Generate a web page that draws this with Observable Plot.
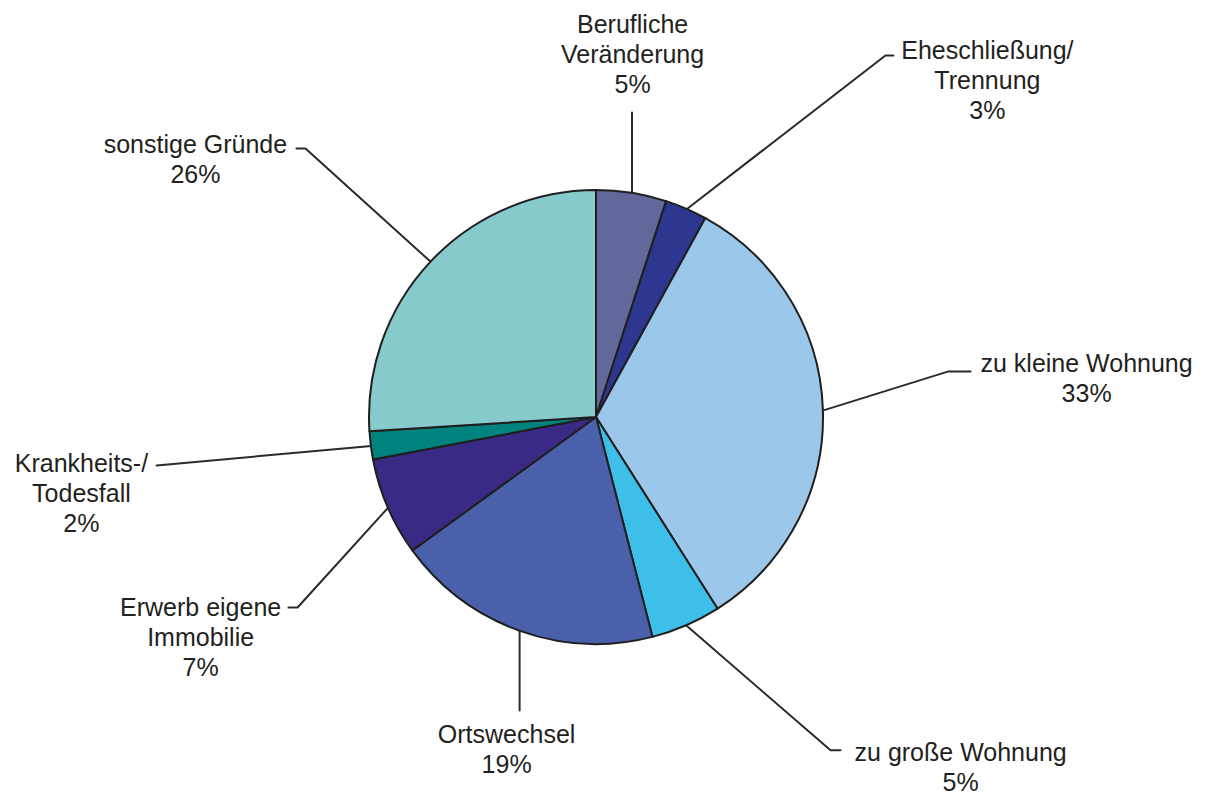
<!DOCTYPE html>
<html lang="de">
<head>
<meta charset="utf-8">
<title>Umzugsgründe</title>
<script src="https://cdn.jsdelivr.net/npm/d3@7"></script>
<script src="https://cdn.jsdelivr.net/npm/@observablehq/plot@0.6"></script>
<style>
  html, body { margin: 0; padding: 0; background: #fff; }
  #chart svg { display: block; }
</style>
</head>
<body>
<div id="chart"></div>
<script>
// Reasons for moving, share of all moves in percent (clockwise from 12 o'clock)
const categories = [
  "Berufliche Veränderung",
  "Eheschließung/Trennung",
  "zu kleine Wohnung",
  "zu große Wohnung",
  "Ortswechsel",
  "Erwerb eigene Immobilie",
  "Krankheits-/Todesfall",
  "sonstige Gründe"
];
const labelNames = [
  "Berufliche\nVeränderung",
  "Eheschließung/\nTrennung",
  "zu kleine Wohnung",
  "zu große Wohnung",
  "Ortswechsel",
  "Erwerb eigene\nImmobilie",
  "Krankheits-/\nTodesfall",
  "sonstige Gründe"
];
const shares = [5, 3, 33, 5, 19, 7, 2, 26];
const sliceColors = ["#62689a", "#2e3790", "#9bc7eb", "#3ebfe9", "#4b60aa", "#3b2a85", "#00827f", "#87cacc"];

// Layout, in units of the pie radius (origin at the pie centre, y pointing up)
const pieCenter = [596, 417];   // pixel position of the centre in the SVG
const pieRadius = 227;          // pixels
const width = 1208, height = 800;
const labelAt = [
  [0.159, 1.604], [1.722, 1.489], [2.159, 0.176], [1.604, -1.537],
  [-0.396, -1.458], [-1.744, -0.965], [-2.269, -0.330], [-1.767, 1.141]
];
// leader line vertices after the point on the rim (null x = straight up/down from the rim)
const leaderVia = [
  [[null, 1.344]],
  [[1.273, 1.595], [1.308, 1.595]],
  [[1.551, 0.203], [1.648, 0.203]],
  [[1.031, -1.466], [1.075, -1.466]],
  [[null, -1.291]],
  [[-1.317, -0.837], [-1.357, -0.837]],
  [[-1.938, -0.211]],
  [[-1.282, 1.185], [-1.322, 1.185]]
];

const rows = categories.map((category, i) => ({
  category,
  share: shares[i],
  text: `${labelNames[i]}\n${shares[i]}%`,
  lx: labelAt[i][0],
  ly: labelAt[i][1]
}));

const arcs = d3.pie().sort(null).value(d => d.share)(rows);

const leaders = arcs.flatMap((a, i) => {
  const mid = (a.startAngle + a.endAngle) / 2;
  const rim = [Math.sin(mid), Math.cos(mid)];
  const pts = [rim, ...leaderVia[i].map(([u, v]) => [u ?? rim[0], v])];
  return pts.map(([x, y]) => ({category: a.data.category, x, y}));
});

const color = Plot.scale({color: {type: "ordinal", domain: categories, range: sliceColors}});

// Pie slices drawn with d3.arc, sized and placed through the plot's x/y scales
function pieSlices(index, scales) {
  const {x, y} = scales;
  const r = x(1) - x(0);
  const arc = d3.arc().innerRadius(0).outerRadius(r);
  const g = d3.create("svg:g").attr("transform", `translate(${x(0)},${y(0)})`);
  g.selectAll("path")
    .data(arcs)
    .join("path")
      .attr("d", arc)
      .attr("fill", d => color.apply(d.data.category))
      .attr("stroke", "#1f1f1f")
      .attr("stroke-width", 2)
      .attr("stroke-linejoin", "round");
  return g.node();
}

const chart = Plot.plot({
  width,
  height,
  margin: 0,
  style: {background: "#fff", fontFamily: "'Liberation Sans', Arial, sans-serif"},
  x: {axis: null, domain: [-pieCenter[0] / pieRadius, (width - pieCenter[0]) / pieRadius]},
  y: {axis: null, domain: [(pieCenter[1] - height) / pieRadius, pieCenter[1] / pieRadius]},
  marks: [
    Plot.line(leaders, {x: "x", y: "y", z: "category", stroke: "#2a2a2a", strokeWidth: 2}),
    pieSlices,
    Plot.text(rows, {
      x: "lx",
      y: "ly",
      text: "text",
      textAnchor: "middle",
      lineAnchor: "middle",
      lineHeight: 1.2,
      fontSize: 25,
      fill: "#231f20"
    })
  ]
});

document.getElementById("chart").append(chart);
</script>
</body>
</html>
